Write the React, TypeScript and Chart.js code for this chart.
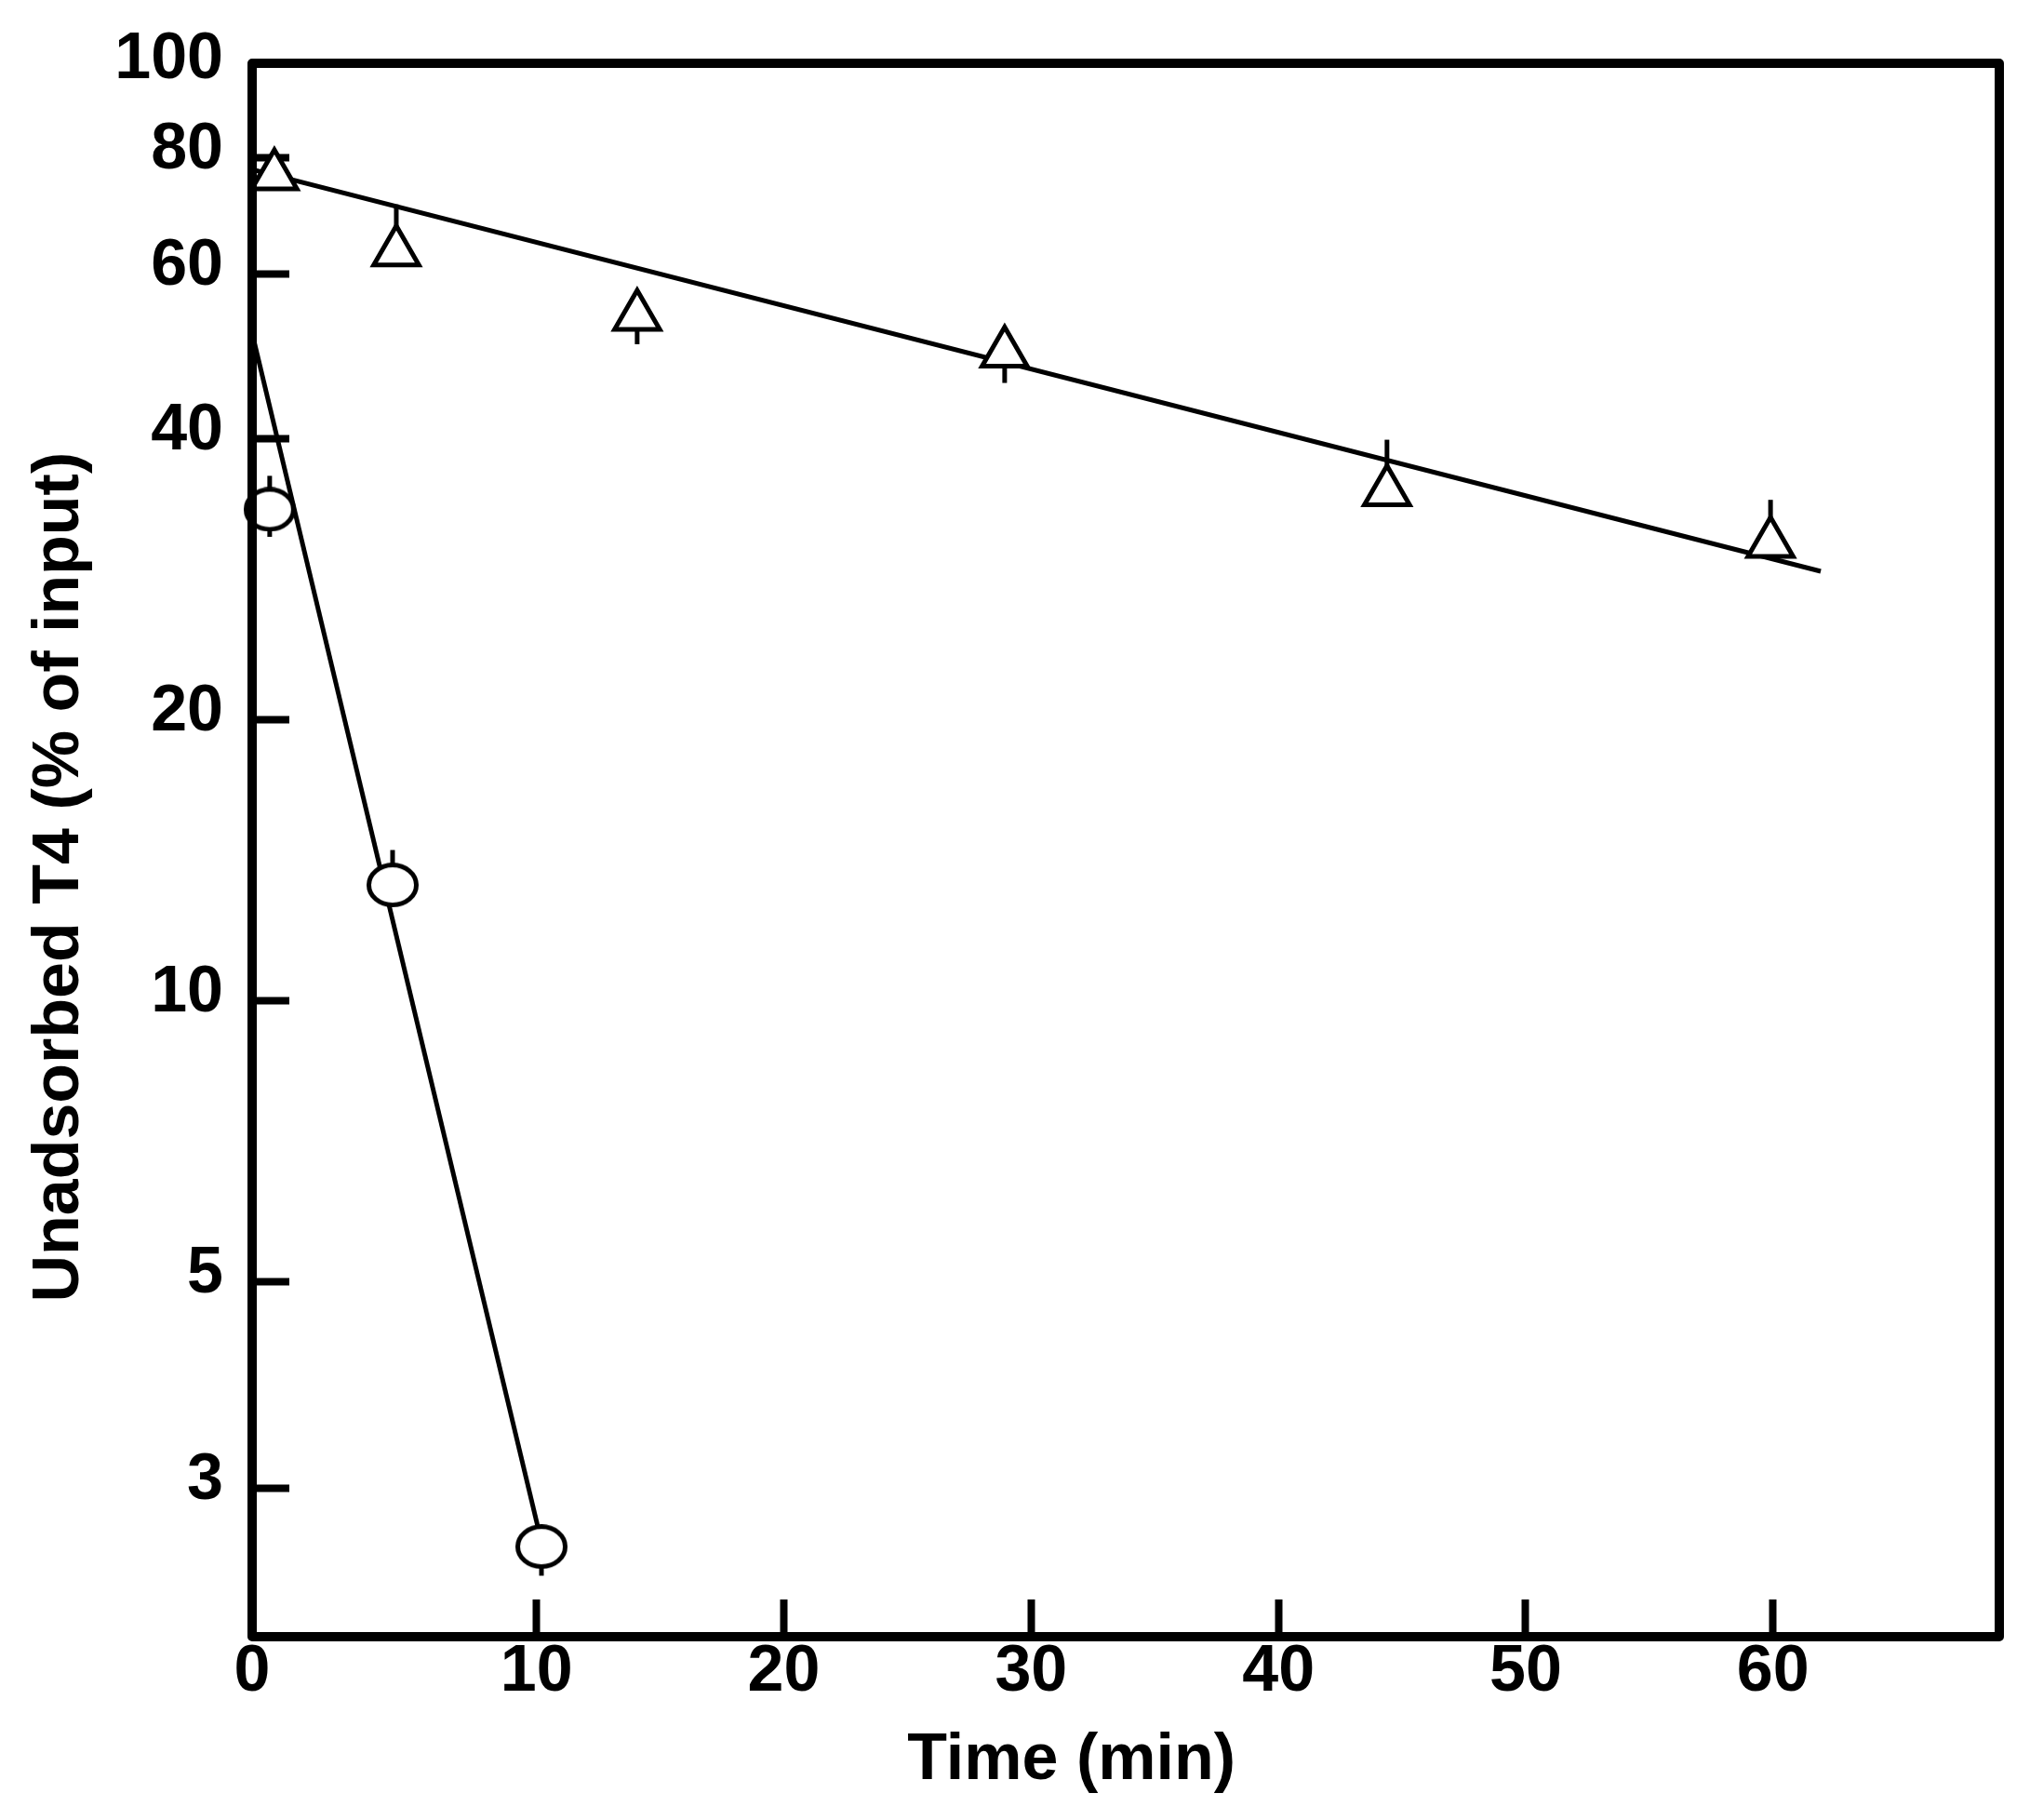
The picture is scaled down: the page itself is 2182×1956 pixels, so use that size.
import React, { useEffect, useRef } from 'react';
import { Chart, registerables } from 'chart.js';

Chart.register(...registerables);

// ---- data ----
const triTime = [-0.6, 4.33, 14.07, 28.93, 44.39, 59.9];
const triValue = [76.5, 63.4, 54.1, 49.4, 35.1, 30.9];
const triErrLow: (number | null)[] = [null, null, 50.5, 45.9, null, null];
const triErrHigh: (number | null)[] = [null, 71.3, null, null, 39.9, 34.4];

const circTime = [-0.79, 4.18, 10.2];
const circValue = [33.6, 13.3, 2.6];
const circErrLow: (number | null)[] = [31.4, null, 2.42];
const circErrHigh: (number | null)[] = [36.5, 14.5, null];

const triFitTime = [-1.5, 61.93];
const triFitValue = [77.7, 28.84];
const circFitTime = [-1.5, 10.23];
const circFitValue = [51.9, 2.61];

const xMin = -1.5;
const xMax = 69.15;
const xTickValues = [-1.5, 10, 20, 30, 40, 50, 60];
const xTickLabels = ['0', '10', '20', '30', '40', '50', '60'];

const yMin = 2.082;
const yMax = 101;
const yTickValues = [3, 5, 10, 20, 40, 60, 80, 100];

const xTitle = 'Time (min)';
const yTitle = 'Unadsorbed T4 (% of input)';

const FONT = "'Liberation Sans', Arial, Helvetica, sans-serif";

function makeEllipse(): HTMLCanvasElement {
  const c = document.createElement('canvas');
  c.width = 56;
  c.height = 48;
  const g = c.getContext('2d')!;
  g.beginPath();
  g.ellipse(28, 24, 25.5, 21.5, 0, 0, Math.PI * 2);
  g.fillStyle = '#fff';
  g.fill();
  g.lineWidth = 5;
  g.strokeStyle = '#000';
  g.stroke();
  return c;
}

const errorBarPlugin = {
  id: 'errorBars',
  beforeDatasetsDraw(chart: any) {
    const { ctx, scales } = chart;
    const x = scales.x;
    const y = scales.y;
    ctx.save();
    ctx.strokeStyle = '#000';
    ctx.lineWidth = 5;
    const sets: [number[], number[], (number | null)[], (number | null)[]][] = [
      [triTime, triValue, triErrLow, triErrHigh],
      [circTime, circValue, circErrLow, circErrHigh],
    ];
    for (const [ts, vs, lo, hi] of sets) {
      ts.forEach((t, i) => {
        const top = hi[i] ?? vs[i];
        const bot = lo[i] ?? vs[i];
        if (top === bot) return;
        const px = x.getPixelForValue(t);
        ctx.beginPath();
        ctx.moveTo(px, y.getPixelForValue(top));
        ctx.lineTo(px, y.getPixelForValue(bot));
        ctx.stroke();
      });
    }
    ctx.restore();
  },
};

const framePlugin = {
  id: 'frame',
  afterDatasetsDraw(chart: any) {
    const { ctx, chartArea } = chart;
    ctx.save();
    ctx.strokeStyle = '#000';
    ctx.lineWidth = 10;
    ctx.lineJoin = 'round';
    ctx.strokeRect(chartArea.left, chartArea.top, chartArea.right - chartArea.left, chartArea.bottom - chartArea.top);
    ctx.restore();
  },
};

function zeroPadding(s: any) {
  s.paddingTop = 0;
  s.paddingBottom = 0;
  s.paddingLeft = 0;
  s.paddingRight = 0;
}

export default function App() {
  const ref = useRef<HTMLCanvasElement | null>(null);

  useEffect(() => {
    if (!ref.current) return;
    const ellipse = makeEllipse();
    const chart = new Chart(ref.current, {
      type: 'scatter',
      data: {
        datasets: [
          {
            label: 'triangles',
            data: triTime.map((t, i) => ({ x: t, y: triValue[i] })),
            pointStyle: 'triangle',
            pointRadius: 28,
            pointBorderWidth: 5,
            pointBorderColor: '#000',
            pointBackgroundColor: '#fff',
            showLine: false,
            clip: false as any,
            order: 0,
          },
          {
            label: 'circles',
            data: circTime.map((t, i) => ({ x: t, y: circValue[i] })),
            pointStyle: ellipse as any,
            pointRadius: 25,
            showLine: false,
            clip: false as any,
            order: 0,
          },
          {
            label: 'triangle fit',
            data: triFitTime.map((t, i) => ({ x: t, y: triFitValue[i] })),
            showLine: true,
            pointRadius: 0,
            borderColor: '#000',
            borderWidth: 5,
            order: 1,
          },
          {
            label: 'circle fit',
            data: circFitTime.map((t, i) => ({ x: t, y: circFitValue[i] })),
            showLine: true,
            pointRadius: 0,
            borderColor: '#000',
            borderWidth: 5,
            order: 1,
          },
        ],
      },
      options: {
        animation: false,
        responsive: false,
        layout: { padding: { left: 0, top: 68, right: 33, bottom: 0 } },
        plugins: { legend: { display: false }, tooltip: { enabled: false } },
        scales: {
          x: {
            type: 'linear',
            min: xMin,
            max: xMax,
            bounds: 'data',
            afterBuildTicks: (s: any) => {
              s.ticks = xTickValues.map((v) => ({ value: v }));
            },
            afterFit: (s: any) => {
              s.height = 197;
              zeroPadding(s);
            },
            ticks: {
              autoSkip: false,
              maxRotation: 0,
              padding: 44,
              color: '#000',
              font: { family: FONT, size: 70, weight: 'bold', lineHeight: 1 },
              callback: (v: any, i: number) => xTickLabels[i],
            },
            grid: {
              display: true,
              drawOnChartArea: false,
              drawTicks: true,
              tickLength: -40,
              tickWidth: 8,
              tickColor: (c: any) => (c.index === 0 ? 'rgba(0,0,0,0)' : '#000'),
            },
            border: { display: false },
            title: {
              display: true,
              text: xTitle + '      ',
              color: '#000',
              font: { family: FONT, size: 70, weight: 'bold', lineHeight: 1.2 },
              padding: { top: 0, bottom: 21 },
            },
          },
          y: {
            type: 'logarithmic',
            min: yMin,
            max: yMax,
            bounds: 'data',
            afterBuildTicks: (s: any) => {
              s.ticks = yTickValues.map((v) => ({ value: v }));
            },
            afterFit: (s: any) => {
              s.width = 271;
              zeroPadding(s);
            },
            ticks: {
              autoSkip: false,
              padding: 71,
              labelOffset: -8,
              color: '#000',
              font: { family: FONT, size: 70, weight: 'bold', lineHeight: 1 },
              callback: (v: any) => String(v),
            },
            grid: {
              display: true,
              drawOnChartArea: false,
              drawTicks: true,
              tickLength: -40,
              tickWidth: 8,
              tickColor: (c: any) => (c.tick && c.tick.value === 100 ? 'rgba(0,0,0,0)' : '#000'),
            },
            border: { display: false },
            title: {
              display: true,
              text: yTitle + '   ',
              color: '#000',
              font: { family: FONT, size: 70, weight: 'bold', lineHeight: 1.2 },
              padding: { top: 23, bottom: 0 },
            },
          },
        },
      } as any,
      plugins: [errorBarPlugin, framePlugin],
    });
    return () => chart.destroy();
  }, []);

  return (
    <div style={{ position: 'fixed', left: 0, top: 0, width: 2182, height: 1956, background: '#fff' }}>
      <canvas ref={ref} width={2182} height={1956} style={{ width: 2182, height: 1956, display: 'block' }} />
    </div>
  );
}
